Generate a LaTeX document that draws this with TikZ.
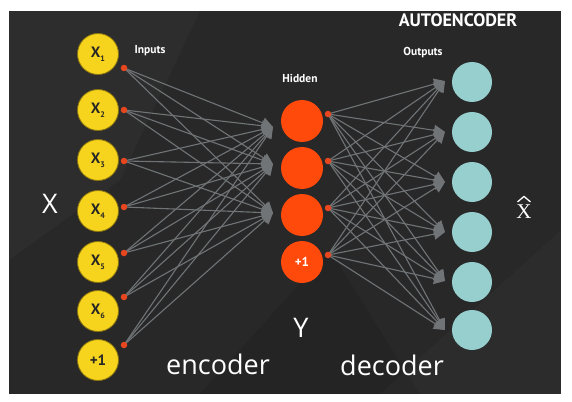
\documentclass[tikz,border=0pt]{standalone}
\usepackage{fontspec}
\setmainfont{PT Sans}
\newfontfamily\labelfont{Open Sans}
\newfontfamily\serifx{Liberation Serif}
\usetikzlibrary{arrows.meta}
\definecolor{bg}{HTML}{282828}
\definecolor{yel}{HTML}{F6D31C}
\definecolor{yeledge}{HTML}{8A7410}
\definecolor{hid}{HTML}{FF4A0C}
\definecolor{outc}{HTML}{97CFCF}
\definecolor{edgec}{HTML}{707476}
\definecolor{dotc}{HTML}{E8461E}
\tikzset{
  innode/.style={circle, fill=yel, draw=yeledge, line width=0.8pt, minimum size=41pt, inner sep=0pt, text=black!85, font=\bfseries\fontsize{15}{15}\selectfont},
  hidnode/.style={circle, fill=hid, minimum size=42pt, inner sep=0pt, text=white, font=\bfseries\fontsize{13}{13}\selectfont},
  outnode/.style={circle, fill=outc, minimum size=40pt, inner sep=0pt},
  dotnode/.style={circle, fill=dotc, minimum size=6.5pt, inner sep=0pt},
  conn/.style={draw=edgec, line width=1.1pt, -{Triangle[length=11pt,width=11pt]}},
  smalllab/.style={text=white, font=\bfseries\fontsize{11.5}{11.5}\selectfont},
  biglab/.style={text=white, font=\labelfont\fontsize{27}{27}\selectfont},
}
\newcommand{\xsub}[1]{X\raisebox{-0.5ex}{\fontsize{8}{8}\selectfont #1}}
\begin{document}
\begin{tikzpicture}[x=1pt,y=-1pt]
\useasboundingbox (0,0) rectangle (572,401);
\fill[white] (0,0) rectangle (572,401);
\fill[bg] (9,11) rectangle (561,394);
% subtle background facets
\fill[white,opacity=0.025] (9,11) -- (200,11) -- (120,180) -- (9,260) -- cycle;
\fill[white,opacity=0.02] (380,394) -- (561,230) -- (561,394) -- cycle;
\fill[black,opacity=0.08] (200,394) -- (330,250) -- (420,394) -- cycle;

% input nodes
\node[innode] (i1) at (98,54) {\xsub{1}};
\node[innode] (i2) at (98,110) {\xsub{2}};
\node[innode] (i3) at (98,160) {\xsub{3}};
\node[innode] (i4) at (98,211) {\xsub{4}};
\node[innode] (i5) at (98,262) {\xsub{5}};
\node[innode] (i6) at (98,311) {\xsub{6}};
\node[innode] (i7) at (98,360) {+1};

% hidden nodes
\node[hidnode] (h1) at (302,121) {};
\node[hidnode] (h2) at (302,168) {};
\node[hidnode] (h3) at (302,215) {};
\node[hidnode] (h4) at (302,262) {+1};

% output nodes
\node[outnode] (o1) at (472,82) {};
\node[outnode] (o2) at (472,132) {};
\node[outnode] (o3) at (472,182) {};
\node[outnode] (o4) at (472,232) {};
\node[outnode] (o5) at (472,282) {};
\node[outnode] (o6) at (472,330) {};

% arrow targets
\coordinate (t1) at (273,127);
\coordinate (t2) at (273,164);
\coordinate (t3) at (273,213);
\coordinate (u1) at (445,81);
\coordinate (u2) at (445,132);
\coordinate (u3) at (445,182);
\coordinate (u4) at (445,232);
\coordinate (u5) at (445,281);
\coordinate (u6) at (445,330);

% input dots
\coordinate (a1) at (124,68);
\coordinate (a2) at (124,110);
\coordinate (a3) at (124,161);
\coordinate (a4) at (124,207);
\coordinate (a5) at (124,253);
\coordinate (a6) at (124,297);
\coordinate (a7) at (124,345);
% hidden dots
\coordinate (b1) at (328,114);
\coordinate (b2) at (328,161);
\coordinate (b3) at (328,208);
\coordinate (b4) at (328,255);

\foreach \i in {1,...,7}{
  \foreach \j in {1,2,3}{
    \draw[conn] (a\i) -- (t\j);
  }
}
\foreach \i in {1,...,4}{
  \foreach \j in {1,...,6}{
    \draw[conn] (b\i) -- (u\j);
  }
}
\foreach \i in {1,...,7}{ \node[dotnode] (da\i) at (a\i) {}; }
\foreach \i in {1,...,4}{ \node[dotnode] (db\i) at (b\i) {}; }

% labels
\node[smalllab] (linputs) at (150,51) {Inputs};
\node[smalllab] (lhidden) at (300,78) {Hidden};
\node[smalllab] (loutputs) at (423,53) {Outputs};
\node[text=white, font=\bfseries\fontsize{18}{18}\selectfont] (ltitle) at (458,20) {AUTOENCODER};
\node[biglab] (lx) at (50,204) {X};
\node[biglab] (ly) at (301,328) {Y};
\node[biglab] (lenc) at (218,364) {encoder};
\node[biglab] (ldec) at (392,365) {decoder};
\node[text=white, font=\serifx\fontsize{21}{21}\selectfont, inner sep=0pt] (lxhat) at (524,212) {X};
\draw[white, line width=1.3pt, line join=round] ([xshift=-6.5pt,yshift=3pt]lxhat.north) -- ([yshift=8.5pt]lxhat.north) -- ([xshift=6.5pt,yshift=3pt]lxhat.north);
\end{tikzpicture}
\end{document}
